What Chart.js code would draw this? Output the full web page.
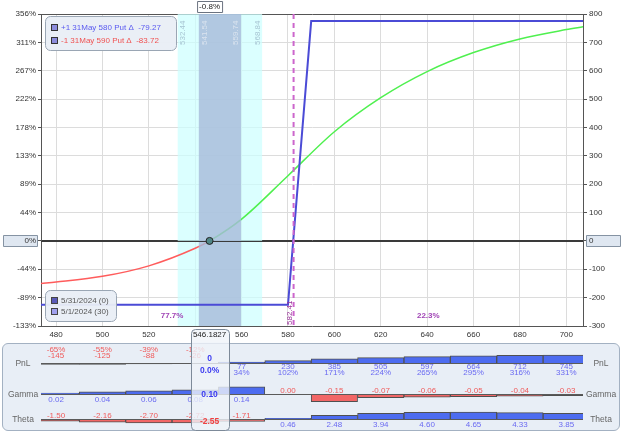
<!DOCTYPE html>
<html>
<head>
<meta charset="utf-8">
<script src="https://cdn.jsdelivr.net/npm/chart.js@4.4.1/dist/chart.umd.min.js"></script>
<style>
  body { margin: 0; background: #fff; }
  #wrap { position: relative; width: 624px; height: 433px; overflow: hidden; }
  #main { position: absolute; left: 0; top: 0; }
  #panel { position: absolute; left: 2px; top: 343px; width: 616px; height: 86px; background: #e8eef6; border: 1px solid #a3b1c2; border-radius: 6px; }
  #greeks { position: absolute; left: 0; top: 342px; }
</style>
</head>
<body>
<div id="wrap">
  <canvas id="main" width="624" height="342"></canvas>
  <div id="panel"></div>
  <canvas id="greeks" width="624" height="91"></canvas>
</div>
<script>
// values
var prices = [480, 500, 520, 540, 560, 580, 600, 620, 640, 660, 680, 700];
var topPctLabels = ['-12.8%', '-9.2%', '-5.6%', '-1.9%', '1.7%', '5.3%', '9.0%', '12.6%', '16.2%', '19.9%', '23.5%', '27.1%'];
var dollarTicks = [-300, -200, -100, 0, 100, 200, 300, 400, 500, 600, 700, 800];
var pctTicks = ['-133%', '-89%', '-44%', '0%', '44%', '89%', '133%', '178%', '222%', '267%', '311%', '356%'];

var pnlT0 = [-145, -125, -88, -26, 77, 230, 385, 505, 597, 664, 712, 745];
var pnlPct = ['-65%', '-55%', '-39%', '-12%', '34%', '102%', '171%', '224%', '265%', '295%', '316%', '331%'];
var gamma = [0.02, 0.04, 0.06, 0.08, 0.14, 0.00, -0.15, -0.07, -0.06, -0.05, -0.04, -0.03];
var theta = [-1.50, -2.16, -2.70, -2.72, -1.71, 0.46, 2.48, 3.94, 4.60, 4.65, 4.33, 3.85];

// expiration P/L (5/31) and the ends of the T+30 curve
var expiryX = [473.5, 580, 590, 707.2];
var expiryY = [-225, -225, 775, 775];
var curveEdgeX = [473.5, 707.2];
var curveEdgeY = [-150, 755];

var spot = 546.1827;
var spotPct = '-0.8%';
var spotPnl = ['0', '0.0%'];
var spotGamma = '0.10';
var spotTheta = '-2.55';
var oneSd = [541.54, 559.74];
var twoSd = [532.44, 568.84];
var breakeven = 582.41;
var probBelow = '77.7%';
var probAbove = '22.3%';
var legs = ['+1 31May 580 Put \u0394  -79.27', '-1 31May 590 Put \u0394  -83.72'];
var dates = ['5/31/2024 (0)', '5/1/2024 (30)'];
var xMin = 473.5, xMax = 707.2;

var fam = '"Liberation Sans", Arial, sans-serif';
function fnt(size, bold) { return (bold ? 'bold ' : '') + size + 'px ' + fam; }

function rbox(ctx, x, y, w, h, r, fill, stroke) {
  ctx.beginPath();
  ctx.roundRect(x + 0.5, y + 0.5, w, h, r);
  ctx.fillStyle = fill; ctx.fill();
  ctx.strokeStyle = stroke; ctx.lineWidth = 1; ctx.stroke();
}

function upText(ctx, s, x, y) {
  ctx.save();
  ctx.translate(x, y);
  ctx.rotate(-Math.PI / 2);
  ctx.textAlign = 'left';
  ctx.textBaseline = 'middle';
  ctx.fillText(s, 0, 0);
  ctx.restore();
}

// T+30 curve points: grid prices + spot (0 P/L) + the chart edges
var curvePts = prices.map(function(p, i) { return { x: p, y: pnlT0[i] }; });
curvePts.push({ x: spot, y: 0 });
curveEdgeX.forEach(function(x, i) { curvePts.push({ x: x, y: curveEdgeY[i] }); });
curvePts.sort(function(a, b) { return a.x - b.x; });

var mainDecor = {
  id: 'mainDecor',
  beforeDatasetsDraw: function(chart) {
    var ctx = chart.ctx, a = chart.chartArea, xs = chart.scales.x;
    var l = xs.getPixelForValue(twoSd[0]), r = xs.getPixelForValue(twoSd[1]);
    ctx.save();
    ctx.fillStyle = 'rgba(205,255,255,0.72)';
    ctx.fillRect(l, a.top, r - l, a.bottom - a.top);
    ctx.restore();
  },
  afterDatasetDraw: function(chart, args) {
    if (args.index !== 2) return;
    var ctx = chart.ctx, a = chart.chartArea, xs = chart.scales.x, ys = chart.scales.yL;
    var l = xs.getPixelForValue(oneSd[0]), r = xs.getPixelForValue(oneSd[1]);
    ctx.save();
    ctx.fillStyle = 'rgba(166,186,218,0.8)';
    ctx.fillRect(l, a.top, r - l, a.bottom - a.top);
    // zero line stays dark through the bands
    var y0 = Math.round(ys.getPixelForValue(0)) + 0.5;
    ctx.strokeStyle = '#3a3a3a'; ctx.lineWidth = 1;
    ctx.beginPath(); ctx.moveTo(a.left, y0); ctx.lineTo(a.right, y0); ctx.stroke();
    ctx.restore();
  },
  afterDatasetsDraw: function(chart) {
    var ctx = chart.ctx, a = chart.chartArea, xs = chart.scales.x;
    ctx.save();
    ctx.font = fnt(8);
    // std dev band labels
    ctx.fillStyle = '#a7c5d3';
    upText(ctx, twoSd[0].toFixed(2), xs.getPixelForValue(twoSd[0]) + 5, a.top + 31);
    upText(ctx, twoSd[1].toFixed(2), xs.getPixelForValue(twoSd[1]) - 4, a.top + 31);
    ctx.fillStyle = '#dbe4ef';
    upText(ctx, oneSd[0].toFixed(2), xs.getPixelForValue(oneSd[0]) + 6, a.top + 31);
    upText(ctx, oneSd[1].toFixed(2), xs.getPixelForValue(oneSd[1]) - 5.5, a.top + 31);

    // breakeven
    var bx = xs.getPixelForValue(breakeven);
    ctx.strokeStyle = '#cc66cc'; ctx.lineWidth = 2; ctx.setLineDash([5, 4]);
    ctx.beginPath(); ctx.moveTo(bx, a.top); ctx.lineTo(bx, a.bottom); ctx.stroke();
    ctx.setLineDash([]);
    ctx.fillStyle = '#993399';
    upText(ctx, breakeven.toFixed(2), bx - 4, a.bottom - 1);

    // probability below / above breakeven
    ctx.font = fnt(8, true);
    ctx.fillStyle = '#a045b5';
    ctx.textAlign = 'center'; ctx.textBaseline = 'middle';
    ctx.fillText(probBelow, xs.getPixelForValue(530), a.bottom - 10);
    ctx.fillText(probAbove, xs.getPixelForValue(640.5), a.bottom - 10);

    // legend of positions (top left)
    ctx.font = fnt(8);
    ctx.textAlign = 'left';
    rbox(ctx, a.left + 4, a.top + 2, 131, 34, 5, 'rgba(233,238,245,0.95)', '#9aa6b4');
    var legColors = ['#5a5af0', '#f05252'];
    legs.forEach(function(s, i) {
      var yy = a.top + 14 + i * 13;
      ctx.fillStyle = '#8c8cdc'; ctx.fillRect(a.left + 10.5, yy - 3.5, 6, 6);
      ctx.strokeStyle = '#333'; ctx.lineWidth = 1; ctx.strokeRect(a.left + 10.5, yy - 3.5, 6, 6);
      ctx.fillStyle = legColors[i];
      ctx.fillText(s, a.left + 20, yy);
    });

    // legend of dates (bottom left)
    rbox(ctx, a.left + 4, a.bottom - 36, 71, 31, 5, 'rgba(233,238,245,0.95)', '#9aa6b4');
    var dateColors = ['#5a5ab8', '#a0a0ee'];
    dates.forEach(function(s, i) {
      var yy = a.bottom - 25 + i * 11;
      ctx.fillStyle = dateColors[i]; ctx.fillRect(a.left + 10.5, yy - 3.5, 6, 6);
      ctx.strokeStyle = '#444'; ctx.strokeRect(a.left + 10.5, yy - 3.5, 6, 6);
      ctx.fillStyle = '#555';
      ctx.fillText(s, a.left + 20, yy);
    });
    ctx.restore();
  },
  afterDraw: function(chart) {
    var ctx = chart.ctx, a = chart.chartArea, xs = chart.scales.x, ys = chart.scales.yL;
    var sx = xs.getPixelForValue(spot), y0 = Math.round(ys.getPixelForValue(0));
    ctx.save();
    ctx.font = fnt(8);
    ctx.textBaseline = 'middle';
    // 0% / 0 boxes on the axes
    rbox(ctx, 3, y0 - 6, 34, 11, 0, '#dfe7f1', '#8593a3');
    ctx.fillStyle = '#333'; ctx.textAlign = 'right';
    ctx.fillText('0%', 36, y0);
    rbox(ctx, a.right + 3, y0 - 6, 34, 11, 0, '#dfe7f1', '#8593a3');
    ctx.fillStyle = '#333'; ctx.textAlign = 'left';
    ctx.fillText('0', a.right + 6, y0);
    // spot on top axis
    rbox(ctx, sx - 12.5, 1, 25, 11, 0, '#fff', '#6b7380');
    ctx.fillStyle = '#222'; ctx.textAlign = 'center';
    ctx.fillText(spotPct, sx, 7);
    // spot on bottom axis, top of the column box
    var l = Math.round(sx - 19) + 0.5, r = Math.round(sx + 19) + 0.5, t = a.bottom + 3.5;
    ctx.beginPath();
    ctx.moveTo(l, chart.height + 1); ctx.lineTo(l, t + 4);
    ctx.arcTo(l, t, l + 4, t, 4); ctx.lineTo(r - 4, t);
    ctx.arcTo(r, t, r, t + 4, 4); ctx.lineTo(r, chart.height + 1);
    ctx.fillStyle = '#f3f6fa'; ctx.fill();
    ctx.strokeStyle = '#7d8a99'; ctx.lineWidth = 1; ctx.stroke();
    ctx.fillStyle = '#222';
    ctx.fillText(String(spot), sx, a.bottom + 9);
    ctx.restore();
  }
};

var tickFont = { family: fam, size: 8 };

new Chart(document.getElementById('main'), {
  type: 'line',
  data: {
    datasets: [{
      label: 'spot',
      data: [{ x: spot, y: 0 }],
      showLine: false,
      pointRadius: 3.5,
      pointBackgroundColor: '#4f8686',
      pointBorderColor: '#222',
      pointBorderWidth: 1,
      xAxisID: 'x', yAxisID: 'yL',
      order: 0
    }, {
      label: dates[0],
      data: expiryX.map(function(x, i) { return { x: x, y: expiryY[i] }; }),
      borderColor: '#4b4bd6',
      borderWidth: 2,
      pointRadius: 0,
      tension: 0,
      xAxisID: 'x', yAxisID: 'yL',
      order: 1
    }, {
      label: dates[1],
      data: curvePts,
      borderWidth: 1.5,
      pointRadius: 0,
      cubicInterpolationMode: 'monotone',
      segment: {
        borderColor: function(c) { return c.p1.parsed.y <= 0 ? '#ff5c5c' : '#4ff04f'; }
      },
      xAxisID: 'x', yAxisID: 'yL',
      order: 2
    }]
  },
  options: {
    responsive: false,
    animation: false,
    layout: { padding: 0 },
    plugins: { legend: { display: false }, tooltip: { enabled: false } },
    scales: {
      x: {
        type: 'linear', position: 'bottom', min: xMin, max: xMax,
        afterBuildTicks: function(s) { s.ticks = prices.map(function(v) { return { value: v }; }); },
        afterFit: function(s) { s.height = 16; },
        grid: { color: '#dcdcdc', drawTicks: false },
        border: { color: '#555' },
        ticks: { font: tickFont, color: '#333', padding: 4, maxRotation: 0, autoSkip: false,
          // the price under the spot box is hidden
          callback: function(v) { return Math.abs(v - spot) < 10 ? '' : String(v); } }
      },
      xTop: {
        type: 'linear', position: 'top', min: xMin, max: xMax,
        afterBuildTicks: function(s) { s.ticks = prices.map(function(v) { return { value: v }; }); },
        afterFit: function(s) { s.height = 14; },
        grid: { display: false },
        border: { color: '#555' },
        ticks: { font: tickFont, color: '#333', padding: 3, maxRotation: 0, autoSkip: false,
          callback: function(v, i) { return topPctLabels[i]; } }
      },
      yL: {
        position: 'left', min: -300, max: 800,
        afterBuildTicks: function(s) { s.ticks = dollarTicks.map(function(v) { return { value: v }; }); },
        afterFit: function(s) { s.width = 41; },
        grid: { color: function(c) { return c.tick && c.tick.value === 0 ? '#3a3a3a' : '#dcdcdc'; },
          tickLength: 3, tickColor: '#555' },
        border: { color: '#555' },
        ticks: { font: tickFont, color: '#333', padding: 2,
          callback: function(v, i) { return pctTicks[i]; } }
      },
      yR: {
        position: 'right', min: -300, max: 800,
        afterBuildTicks: function(s) { s.ticks = dollarTicks.map(function(v) { return { value: v }; }); },
        afterFit: function(s) { s.width = 41; },
        grid: { drawOnChartArea: false, tickLength: 4, color: '#555' },
        border: { color: '#555' },
        ticks: { font: tickFont, color: '#333', padding: 2,
          callback: function(v) { return String(v); } }
      }
    }
  },
  plugins: [mainDecor]
});

// greeks panel under the graph
function barColors(arr) {
  return arr.map(function(v) { return v >= 0 ? '#4d6cf0' : '#f26666'; });
}

var rows = [
  { key: 'yP', name: 'PnL', values: pnlT0 },
  { key: 'yG', name: 'Gamma', values: gamma },
  { key: 'yT', name: 'Theta', values: theta }
];

var greekDecor = {
  id: 'greekDecor',
  afterDatasetsDraw: function(chart) {
    var ctx = chart.ctx, a = chart.chartArea, xs = chart.scales.x;
    ctx.save();
    ctx.font = fnt(8);
    ctx.textAlign = 'center'; ctx.textBaseline = 'middle';
    rows.forEach(function(row) {
      var base = chart.scales[row.key].getPixelForValue(0);
      // zero line of the row
      ctx.strokeStyle = '#5a5a5a'; ctx.lineWidth = 1;
      ctx.beginPath(); ctx.moveTo(a.left, Math.round(base) + 0.5); ctx.lineTo(a.right, Math.round(base) + 0.5); ctx.stroke();
      row.values.forEach(function(v, i) {
        var x = xs.getPixelForValue(prices[i]);
        if (x > a.right) return;
        if (row.key === 'yP') {
          if (v > 0) {
            ctx.fillStyle = '#6a6af2';
            ctx.fillText(String(v), x, base + 4);
            ctx.fillText(pnlPct[i], x, base + 10);
          } else {
            ctx.fillStyle = '#f05a5a';
            ctx.fillText(pnlPct[i], x, base - 13);
            ctx.fillText(String(v), x, base - 7);
          }
        } else {
          if (v > 0) {
            ctx.fillStyle = '#6a6af2';
            ctx.fillText(v.toFixed(2), x, base + 5.5);
          } else {
            ctx.fillStyle = '#f05a5a';
            ctx.fillText(v.toFixed(2), x, base - 3.5);
          }
        }
      });
      // row names on both sides
      ctx.fillStyle = '#666';
      ctx.font = fnt(8.5);
      ctx.fillText(row.name, a.left - 18, base + 1);
      ctx.fillText(row.name, a.right + 18, base + 1);
      ctx.font = fnt(8);
    });

    // spot column
    var sx = xs.getPixelForValue(spot);
    var l = Math.round(sx - 19) + 0.5, r = Math.round(sx + 19) + 0.5, b = a.bottom + 0.5;
    ctx.beginPath();
    ctx.moveTo(l, -1); ctx.lineTo(l, b - 4);
    ctx.arcTo(l, b, l + 4, b, 4); ctx.lineTo(r - 4, b);
    ctx.arcTo(r, b, r, b - 4, 4); ctx.lineTo(r, -1);
    ctx.fillStyle = 'rgba(238,242,249,0.8)'; ctx.fill();
    ctx.strokeStyle = '#7d8a99'; ctx.stroke();

    var bP = chart.scales.yP.getPixelForValue(0);
    var bG = chart.scales.yG.getPixelForValue(0);
    var bT = chart.scales.yT.getPixelForValue(0);
    ctx.font = fnt(8.5, true);
    ctx.fillStyle = '#3c3cf0';
    ctx.fillText(spotPnl[0], sx, bP - 4);
    ctx.fillText(spotPnl[1], sx, bP + 8);
    ctx.fillText(spotGamma, sx, bG + 0.5);
    ctx.fillStyle = '#f04040';
    ctx.fillText(spotTheta, sx, bT + 2.5);
    ctx.restore();
  }
};

new Chart(document.getElementById('greeks'), {
  type: 'bar',
  data: {
    datasets: rows.map(function(row) {
      return {
        label: row.name,
        data: prices.map(function(p, i) { return { x: p, y: row.values[i] }; }),
        yAxisID: row.key,
        backgroundColor: barColors(row.values),
        borderColor: '#505050',
        borderWidth: 1,
        barPercentage: 1,
        categoryPercentage: 1,
        grouped: false
      };
    })
  },
  options: {
    responsive: false,
    animation: false,
    layout: { padding: { left: 41, right: 41, top: 4, bottom: 3 } },
    plugins: { legend: { display: false }, tooltip: { enabled: false } },
    scales: {
      x: { type: 'linear', min: xMin, max: xMax, offset: false, display: false },
      yP: { position: 'right', stack: 'rows', stackWeight: 34, min: -1600, max: 1600, display: false },
      yG: { position: 'right', stack: 'rows', stackWeight: 28, min: -0.27, max: 0.27, display: false },
      yT: { position: 'right', stack: 'rows', stackWeight: 22, min: -7.5, max: 7.5, display: false }
    }
  },
  plugins: [greekDecor]
});
</script>
</body>
</html>
